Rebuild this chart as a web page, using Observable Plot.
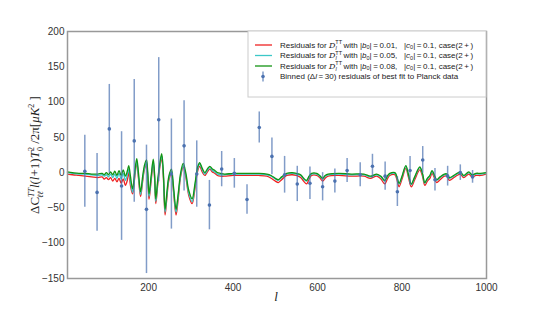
<!DOCTYPE html>
<html><head><meta charset="utf-8">
<script src="https://cdn.jsdelivr.net/npm/d3@7"></script>
<script src="https://cdn.jsdelivr.net/npm/@observablehq/plot@0.6"></script>
<style>body{margin:0;background:#fff;}</style>
</head><body><div id="chart"></div>
<script>
const ell   = [8,20,35,50,65,80,90,95,100,105,110,115,120,125,130,135,140,145,150,153,157,162,167,172,176,181,186,190,195,198,201,206,211,214,217,222,227,231,235,239,243,248,254,259,265,270,276,282,288,295,303,310,316,321,327,333,340,345,351,357,363,370,380,400,430,460,480,490,500,507,515,527,540,550,560,567,574,580,586,598,605,612,618,625,650,680,710,725,740,750,759,766,771,783,788,793,800,809,815,822,830,842,848,854,860,866,871,877,882,890,900,907,912,925,938,946,958,966,975,986,998];
const green = [1,0,-1,-1,-2,-2,-1,-3,0,-3,1,-3,2,-4,3,-4,4,-5,3,10,-5,-23,0,20,0,-27,-5,10,18,0,-30,-5,19,0,-37,-8,15,27,0,-52,-30,-5,5,-20,-52,-30,0,13,0,-25,-37,-15,8,14,6,0,6,9,5,3,0,-1,-2,-1,-1,-1,-2,-4,-8,-10,-6,-1,0,-1,-3,-8,-11,-5,-1,-1,-4,-8,-4,-2,-1,-2,-2,-5,-2,-5,-11,-4,-1,0,-6,-15,-5,10,-2,-16,-6,8,0,-14,-8,-4,3,-4,-10,-6,-2,-2,-7,-3,1,-4,1,-3,-1,-1,0];
const cyan  = [0,-1,-2,-2,-3,-4,-3,-5,-3,-6,-2,-7,-2,-8,-1,-9,-1,-11,-2,5,-12,-28,-5,16,-5,-31,-9,6,15,-4,-34,-9,16,-4,-41,-12,12,24,-4,-56,-34,-8,2,-24,-56,-34,-3,10,-3,-29,-41,-18,5,12,4,-2,4,7,3,1,-2,-3,-3,-2,-2,-2,-3,-5,-9,-11,-7,-2,-1,-2,-4,-9,-12,-6,-2,-2,-5,-9,-5,-3,-2,-3,-3,-6,-3,-6,-12,-5,-2,-1,-7,-16,-6,9,-3,-17,-7,7,-1,-15,-9,-5,2,-5,-11,-7,-3,-3,-8,-4,0,-5,0,-4,-2,-2,-1];
const red   = [-2,-3,-4,-5,-6,-7,-6,-9,-7,-10,-7,-12,-8,-13,-8,-15,-9,-18,-10,2,-18,-30,-8,14,-8,-34,-12,4,12,-7,-38,-12,13,-6,-44,-15,9,20,-7,-60,-38,-11,-1,-27,-60,-38,-5,8,-6,-32,-44,-22,2,9,1,-4,2,5,1,-1,-4,-5,-5,-4,-4,-4,-5,-8,-12,-14,-10,-4,-3,-4,-7,-12,-16,-9,-4,-4,-7,-12,-8,-5,-4,-5,-5,-8,-5,-9,-16,-8,-4,-3,-10,-20,-9,6,-6,-20,-10,4,-4,-18,-12,-8,-1,-8,-14,-10,-5,-5,-11,-6,-2,-7,-2,-6,-4,-4,-2];

const binL   = [49,78,107,136,166,195,224,254,284,314,344,373,403,433,462,492,522,552,582,612,641,670,701,730,760,789,819,849,878,908,938,967];
const binV   = [2,-28,62,-19,45,-52,75,-2,38,-2,-46,5,-1,-38,64,23,-3,-16,-15,-20,-12,3,-3,9,-5,-27,3,18,-10,-5,0,-6];
const binErr = [51,55,63,77,87,91,88,78,64,47,35,25,21,21,22,26,26,25,23,20,17,17,17,17,20,21,20,19,16,14,11,9];

const xTicks = [200,400,600,800,1000];
const yTicks = [-150,-100,-50,0,50,100,150,200];

const mk = arr => ell.map((l,i)=>({l, v: arr[i]}));
const bins = binL.map((l,i)=>({l, v: binV[i], e: binErr[i]}));

const colRed = "#ee2222", colCyan = "#3cc8c8", colGreen = "#139413", colBlue = "#4c72b0";

const svg = Plot.plot({
  width: 540, height: 310,
  marginLeft: 67, marginRight: 54, marginTop: 31, marginBottom: 32,
  x: {domain: [8, 1000]},
  y: {domain: [-150, 200]},
  style: {fontFamily: "'Liberation Sans', Arial, sans-serif", fontSize: "10px", color: "#333", background: "#fff"},
  marks: [
    Plot.axisX({ticks: xTicks, tickFormat: d => String(d), tickSize: 0, tickPadding: 5, label: null, fontSize: 10}),
    Plot.axisY({ticks: yTicks, tickFormat: d => d < 0 ? "\u2212" + (-d) : String(d), tickSize: 0, tickPadding: 3, label: null, fontSize: 10}),
    Plot.line(mk(red),   {x: "l", y: "v", stroke: colRed,   strokeWidth: 1.3, curve: "catmull-rom"}),
    Plot.line(mk(cyan),  {x: "l", y: "v", stroke: colCyan,  strokeWidth: 1.3, curve: "catmull-rom"}),
    Plot.line(mk(green), {x: "l", y: "v", stroke: colGreen, strokeWidth: 1.3, curve: "catmull-rom"}),
    Plot.ruleX(bins, {x: "l", y1: d => d.v - d.e, y2: d => d.v + d.e, stroke: colBlue, strokeOpacity: 0.7, strokeWidth: 1.5}),
    Plot.dot(bins, {x: "l", y: "v", r: 1.8, fill: colBlue}),
    Plot.frame({stroke: "#999", strokeWidth: 1.5})
  ]
});
document.getElementById("chart").appendChild(svg);

const s = d3.select(svg);
// y label
const yl = s.append("text")
  .attr("transform", "translate(39,155) rotate(-90)")
  .attr("text-anchor", "middle")
  .style("font-family", "'Liberation Serif', 'DejaVu Serif', serif")
  .style("font-size", "13px").attr("fill", "#222");
yl.append("tspan").text("ΔC");
yl.append("tspan").attr("dy", -5).style("font-size", "8px").style("font-style", "italic").text("TT");
yl.append("tspan").attr("dx", -10).attr("dy", 9).style("font-size", "8px").style("font-style", "italic").text("ℓℓ");
yl.append("tspan").attr("dy", -4).style("font-style", "italic").text(" l");
yl.append("tspan").text("(");
yl.append("tspan").style("font-style", "italic").text("l");
yl.append("tspan").text("+1)");
yl.append("tspan").style("font-style", "italic").text("T");
yl.append("tspan").attr("dy", -5).style("font-size", "8px").text("2");
yl.append("tspan").attr("dx", -4).attr("dy", 9).style("font-size", "8px").text("0");
yl.append("tspan").attr("dy", -4).text(" /2π[");
yl.append("tspan").style("font-style", "italic").text("μK");
yl.append("tspan").attr("dy", -5).style("font-size", "8px").text("2");
yl.append("tspan").attr("dy", 5).text(" ]");

// x label
s.append("text").attr("x", 276).attr("y", 301).attr("text-anchor", "middle")
  .style("font-family", "'Liberation Serif', 'DejaVu Serif', serif")
  .style("font-size", "13px").style("font-style", "italic").attr("fill", "#222").text("l");

// legend
const lg = s.append("g").attr("text-anchor", "start")
  .style("font-family", "'Liberation Sans', Arial, sans-serif").style("font-size", "8px");
lg.append("rect").attr("x", 248).attr("y", 31).attr("width", 238).attr("height", 66)
  .attr("fill", "#fff").attr("stroke", "#ccc").attr("stroke-width", 1);
const vals = [["0.01", colRed], ["0.05", colCyan], ["0.08", colGreen]];
const rowY = [45, 55.5, 66, 76.5];
vals.forEach(([b, c], i) => {
  const y = rowY[i];
  lg.append("line").attr("x1", 255).attr("x2", 272).attr("y1", y).attr("y2", y).attr("stroke", c).attr("stroke-width", 1.3);
  const t = lg.append("text").attr("x", 280).attr("y", y + 2.7).attr("fill", "#222").attr("text-anchor", "start");
  t.append("tspan").text("Residuals for ");
  t.append("tspan").style("font-family", "'DejaVu Serif', serif").style("font-style", "italic").text("D");
  t.append("tspan").attr("dy", -3.5).style("font-size", "5.5px").text("TT");
  t.append("tspan").attr("dx", -6.5).attr("dy", 5.5).style("font-size", "5.5px").style("font-style", "italic").text("l");
  t.append("tspan").attr("dx", 4.5).attr("dy", -2).text(" with |");
  t.append("tspan").style("font-style", "italic").text("b");
  t.append("tspan").attr("dy", 1.5).style("font-size", "5.5px").text("0");
  t.append("tspan").attr("dy", -1.5).text("|\u2009=\u20090.01,".replace("0.01", b) + "   |");
  t.append("tspan").style("font-style", "italic").text("c");
  t.append("tspan").attr("dy", 1.5).style("font-size", "5.5px").text("0");
  t.append("tspan").attr("dy", -1.5).text("|\u2009=\u20090.1, case(2\u2009+\u2009)");
});
{
  const y = rowY[3];
  lg.append("line").attr("x1", 263).attr("x2", 263).attr("y1", y - 5).attr("y2", y + 5).attr("stroke", colBlue).attr("stroke-opacity", 0.7).attr("stroke-width", 1.5);
  lg.append("circle").attr("cx", 263).attr("cy", y).attr("r", 1.8).attr("fill", colBlue);
  const t = lg.append("text").attr("x", 280).attr("y", y + 2.7).attr("fill", "#222").attr("text-anchor", "start");
  t.append("tspan").text("Binned (Δ");
  t.append("tspan").style("font-style", "italic").text("l");
  t.append("tspan").text("\u2009=\u200930) residuals of best fit to Planck data");
}
</script>
</body></html>
